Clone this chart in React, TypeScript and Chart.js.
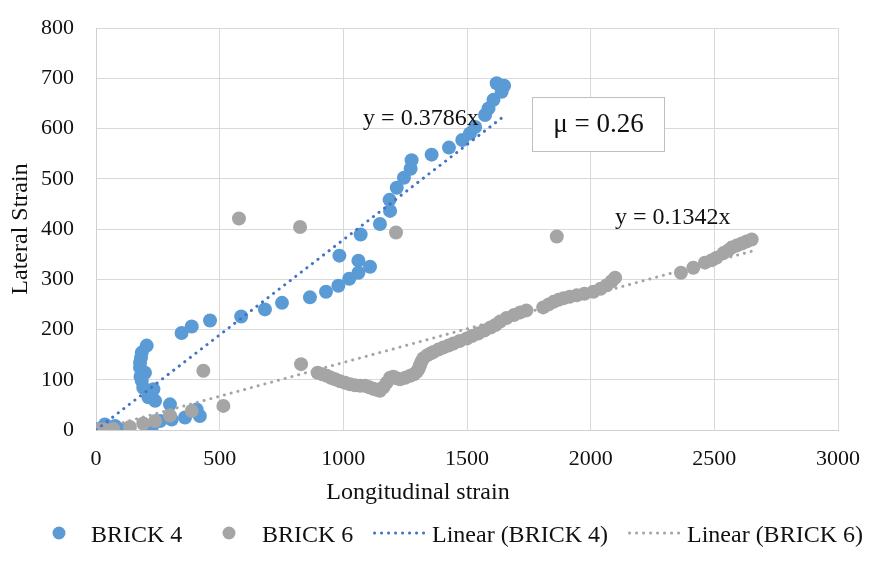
import { useEffect, useRef } from 'react';
import { Chart, registerables } from 'chart.js';

Chart.register(...registerables);

// Longitudinal / lateral strain readings for each brick
const BRICK4_X = [0, 36, 77, 110, 225, 259, 306, 360, 420, 407, 299, 239, 212, 232, 191, 185, 180, 198, 185, 178, 178, 182, 185, 205, 346, 387, 461, 587, 683, 752, 865, 930, 980, 1024, 1061, 1108, 1061, 984, 1070, 1148, 1189, 1187, 1216, 1245, 1272, 1276, 1357, 1427, 1481, 1512, 1533, 1573, 1587, 1607, 1640, 1620, 1650];
const BRICK4_Y = [2, 11, 8, 1, 5, 18, 21, 25, 28, 41, 51, 58, 65, 81, 84, 98, 106, 114, 112, 124, 134, 144, 154, 168, 193, 206, 218, 226, 240, 253, 264, 275, 287, 301, 313, 325, 337, 347, 389, 410, 436, 458, 482, 502, 520, 537, 548, 562, 577, 590, 603, 627, 640, 657, 673, 690, 685];

const BRICK6_X = [0, 12, 30, 70, 137, 191, 239, 299, 387, 434, 515, 578, 825, 829, 896, 915, 933, 950, 967, 987, 1007, 1027, 1047, 1068, 1088, 1105, 1121, 1135, 1148, 1162, 1175, 1189, 1202, 1213, 1215, 1229, 1250, 1270, 1285, 1297, 1305, 1310, 1316, 1324, 1340, 1352, 1364, 1384, 1404, 1425, 1445, 1470, 1499, 1520, 1545, 1570, 1595, 1615, 1634, 1660, 1690, 1715, 1740, 1808, 1830, 1850, 1863, 1870, 1890, 1915, 1944, 1975, 2011, 2040, 2065, 2085, 2099, 2365, 2415, 2462, 2490, 2509, 2537, 2555, 2570, 2590, 2611, 2630, 2651];
const BRICK6_Y = [0, 1, 1, 2, 6, 13, 18, 29, 38, 118, 48, 421, 404, 131, 114, 111, 108, 104, 101, 97, 94, 91, 89, 88, 88, 85, 82, 80, 78, 85, 94, 104, 106, 393, 103, 101, 104, 108, 111, 116, 122, 129, 136, 143, 149, 152, 155, 160, 164, 168, 172, 177, 182, 187, 192, 198, 204, 209, 216, 223, 229, 234, 238, 244, 250, 255, 385, 259, 262, 265, 268, 271, 275, 281, 288, 296, 303, 313, 323, 333, 338, 343, 352, 357, 363, 367, 371, 375, 379];

// Trendline slopes (linear fit through the origin)
const SLOPE_4 = 0.3786;
const SLOPE_6 = 0.1342;
const POISSON_TEXT = 'μ = 0.26';

const X_TICKS = [0, 500, 1000, 1500, 2000, 2500, 3000];
const Y_TICKS = [0, 100, 200, 300, 400, 500, 600, 700, 800];
const SERIES_NAMES = ['BRICK 4', 'BRICK 6', 'Linear (BRICK 4)', 'Linear (BRICK 6)'];
const X_TITLE = 'Longitudinal strain';
const Y_TITLE = 'Lateral Strain';

const FONT = "'Liberation Serif', 'Times New Roman', serif";
const TEXT = '#111111';
const BLUE = '#5b9bd5';
const GREY = '#a5a5a5';
const BLUE_TREND = '#4472c4';
const GREY_TREND = '#a5a5a5';
const DOT_DASH = [0.1, 6.9];

const toPoints = (xs: number[], ys: number[]) => xs.map((x, i) => ({ x, y: ys[i] }));
const trend = (xs: number[], slope: number) => {
  const xMax = Math.max(...xs);
  return [
    { x: 0, y: 0 },
    { x: xMax, y: slope * xMax },
  ];
};

const drawDots = (ctx: CanvasRenderingContext2D, x0: number, x1: number, y: number, color: string) => {
  ctx.save();
  ctx.strokeStyle = color;
  ctx.lineWidth = 3;
  ctx.lineCap = 'round';
  ctx.setLineDash(DOT_DASH);
  ctx.beginPath();
  ctx.moveTo(x0, y);
  ctx.lineTo(x1, y);
  ctx.stroke();
  ctx.restore();
};

// x-axis title, trend equations, the Poisson ratio box and the legend row
const notesPlugin = {
  id: 'notes',
  afterDraw(chart: any) {
    const { ctx, scales } = chart;
    const sx = scales.x;
    const sy = scales.y;
    ctx.save();
    ctx.fillStyle = TEXT;
    ctx.font = `24px ${FONT}`;
    ctx.textBaseline = 'alphabetic';
    ctx.textAlign = 'center';
    ctx.fillText(X_TITLE, 418, 499);

    ctx.textAlign = 'left';
    ctx.fillText(`y = ${SLOPE_4}x`, sx.getPixelForValue(1080), sy.getPixelForValue(607));
    ctx.fillText(`y = ${SLOPE_6}x`, sx.getPixelForValue(2098), sy.getPixelForValue(410));

    const bx0 = Math.round(sx.getPixelForValue(1763)) + 0.5;
    const bx1 = Math.round(sx.getPixelForValue(2297)) + 0.5;
    const by0 = Math.round(sy.getPixelForValue(663)) + 0.5;
    const by1 = Math.round(sy.getPixelForValue(555)) + 0.5;
    ctx.fillStyle = '#ffffff';
    ctx.fillRect(bx0, by0, bx1 - bx0, by1 - by0);
    ctx.strokeStyle = '#bfbfbf';
    ctx.lineWidth = 1;
    ctx.strokeRect(bx0, by0, bx1 - bx0, by1 - by0);
    ctx.fillStyle = TEXT;
    ctx.font = `27px ${FONT}`;
    ctx.textAlign = 'center';
    ctx.fillText(POISSON_TEXT, (bx0 + bx1) / 2, sy.getPixelForValue(593));

    // legend
    const ly = 533;
    const base = 542;
    ctx.font = `24px ${FONT}`;
    ctx.textAlign = 'left';
    ctx.fillStyle = BLUE;
    ctx.beginPath();
    ctx.arc(59, ly, 6.5, 0, Math.PI * 2);
    ctx.fill();
    ctx.fillStyle = GREY;
    ctx.beginPath();
    ctx.arc(229, ly, 6.5, 0, Math.PI * 2);
    ctx.fill();
    drawDots(ctx, 374.5, 425, ly, BLUE_TREND);
    drawDots(ctx, 629.5, 680, ly, GREY_TREND);
    ctx.fillStyle = TEXT;
    ctx.fillText(SERIES_NAMES[0], 91, base);
    ctx.fillText(SERIES_NAMES[1], 262, base);
    ctx.fillText(SERIES_NAMES[2], 432, base);
    ctx.fillText(SERIES_NAMES[3], 687, base);
    ctx.restore();
  },
};

// Fixed axis boxes; label overhang is covered by the layout padding
const fixX = (s: any) => {
  s.height = 80;
  s.paddingLeft = 0;
  s.paddingRight = 0;
  s.paddingTop = 0;
  s.paddingBottom = 0;
};
const fixY = (s: any) => {
  s.width = 96;
  s.paddingLeft = 0;
  s.paddingRight = 0;
  s.paddingTop = 0;
  s.paddingBottom = 0;
};

export default function App() {
  const canvasRef = useRef<HTMLCanvasElement | null>(null);

  useEffect(() => {
    const canvas = canvasRef.current;
    if (!canvas) return;
    const chart = new Chart(canvas, {
      type: 'scatter',
      data: {
        datasets: [
          {
            label: SERIES_NAMES[2],
            data: trend(BRICK4_X, SLOPE_4),
            showLine: true,
            borderColor: BLUE_TREND,
            borderWidth: 3,
            borderCapStyle: 'round',
            borderDash: DOT_DASH,
            pointRadius: 0,
            order: 1,
          },
          {
            label: SERIES_NAMES[3],
            data: trend(BRICK6_X, SLOPE_6),
            showLine: true,
            borderColor: GREY_TREND,
            borderWidth: 3,
            borderCapStyle: 'round',
            borderDash: DOT_DASH,
            pointRadius: 0,
            order: 2,
          },
          {
            label: SERIES_NAMES[1],
            data: toPoints(BRICK6_X, BRICK6_Y),
            backgroundColor: GREY,
            borderColor: GREY,
            borderWidth: 0,
            pointRadius: 7,
            order: 3,
          },
          {
            label: SERIES_NAMES[0],
            data: toPoints(BRICK4_X, BRICK4_Y),
            backgroundColor: BLUE,
            borderColor: BLUE,
            borderWidth: 0,
            pointRadius: 7,
            order: 4,
          },
        ],
      } as any,
      options: {
        responsive: false,
        animation: false,
        events: [],
        layout: { padding: { left: 0, right: 33, top: 28, bottom: 52 } },
        plugins: { legend: { display: false }, tooltip: { enabled: false } },
        scales: {
          x: {
            type: 'linear',
            min: 0,
            max: 3000,
            afterBuildTicks: (s: any) => {
              s.ticks = X_TICKS.map((value) => ({ value }));
            },
            afterFit: fixX,
            grid: { color: '#d9d9d9', lineWidth: 1, drawTicks: false },
            border: { color: '#d0d0d0', width: 1 },
            ticks: {
              padding: 16,
              color: TEXT,
              font: { family: FONT, size: 22 },
              maxRotation: 0,
              autoSkip: false,
              callback: (v: any) => String(v),
            },
            title: { display: false },
          },
          y: {
            type: 'linear',
            min: 0,
            max: 800,
            afterBuildTicks: (s: any) => {
              s.ticks = Y_TICKS.map((value) => ({ value }));
            },
            afterFit: fixY,
            grid: { color: '#d9d9d9', lineWidth: 1, drawTicks: false },
            border: { color: '#d0d0d0', width: 1 },
            ticks: {
              padding: 22,
              color: TEXT,
              font: { family: FONT, size: 22 },
              callback: (v: any) => String(v),
            },
            title: {
              display: true,
              text: Y_TITLE,
              color: TEXT,
              font: { family: FONT, size: 24 },
              padding: { top: 6, bottom: 0 },
            },
          },
        },
      } as any,
      plugins: [notesPlugin],
    });
    return () => chart.destroy();
  }, []);

  return (
    <div style={{ position: 'fixed', left: 0, top: 0, width: 871, height: 562, background: '#fff' }}>
      <canvas ref={canvasRef} width={871} height={562} style={{ display: 'block', width: 871, height: 562 }} />
    </div>
  );
}
